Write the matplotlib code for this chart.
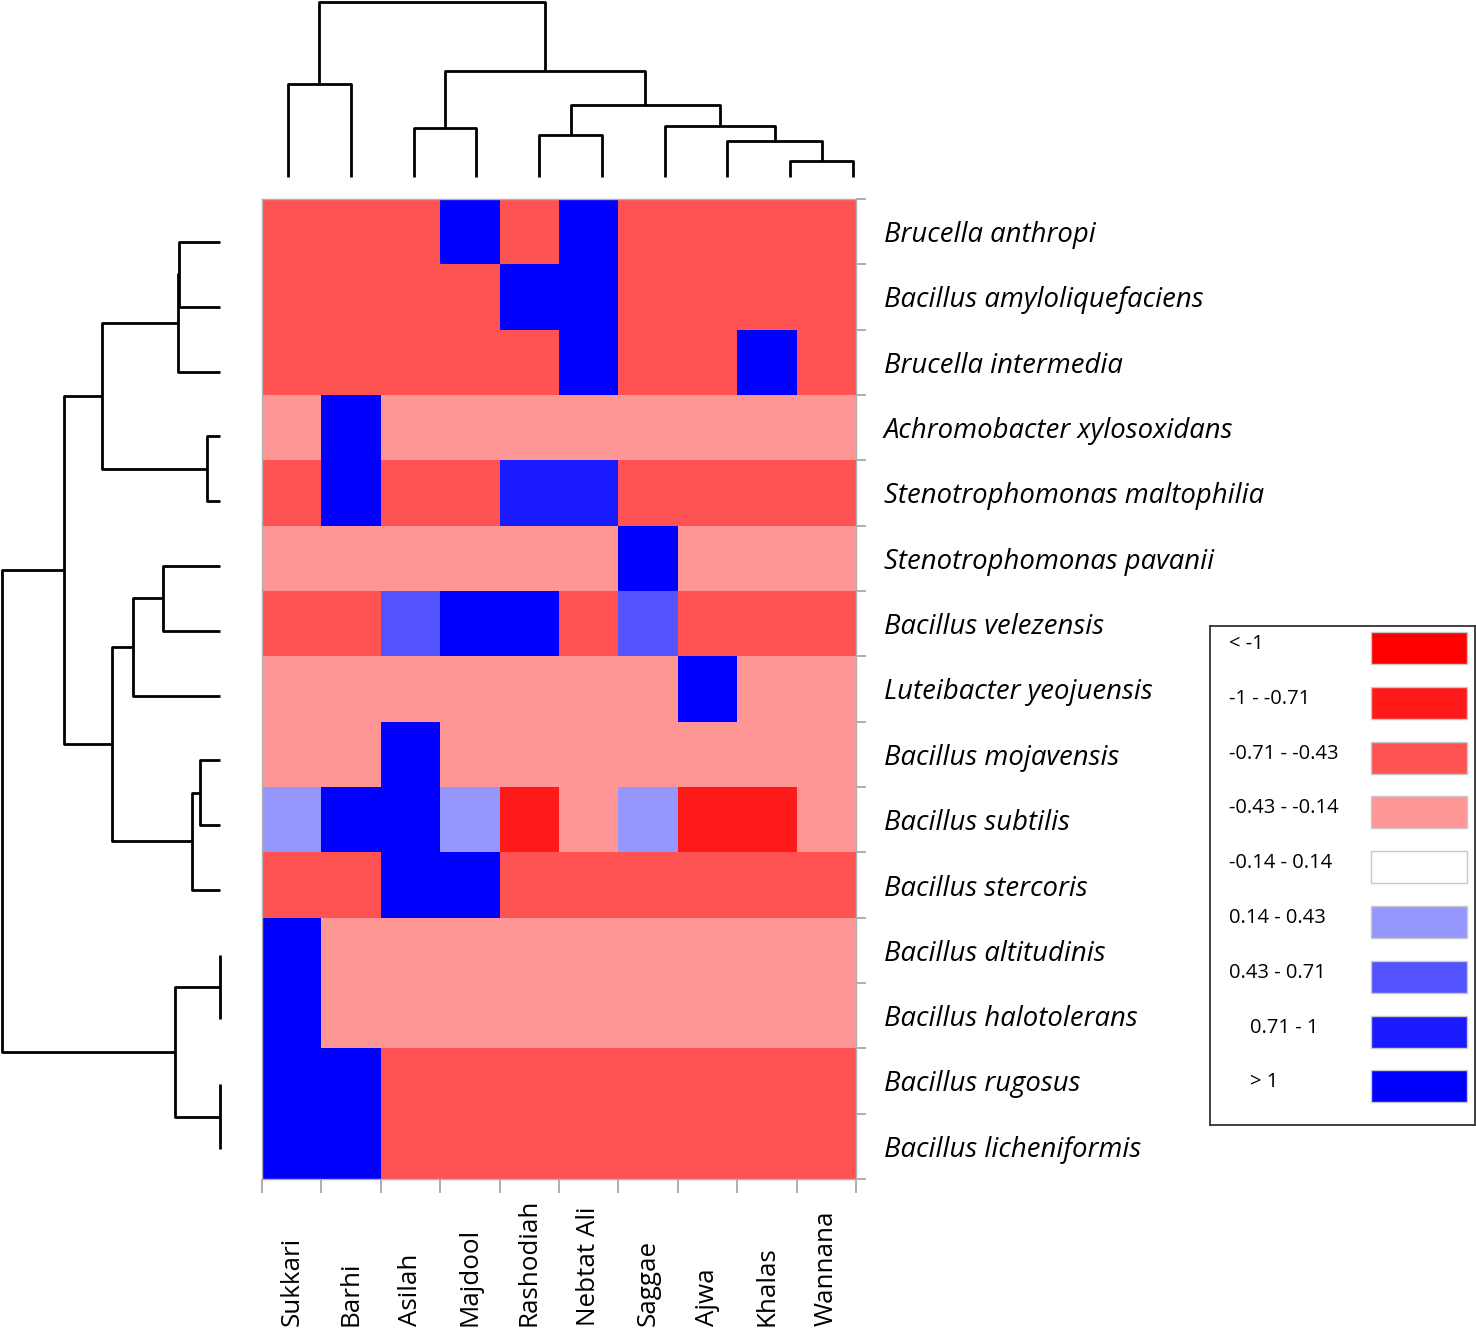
import numpy as np
import matplotlib.pyplot as plt
from matplotlib.colors import ListedColormap, BoundaryNorm
from matplotlib.patches import Rectangle
from matplotlib.transforms import blended_transform_factory

plt.rcParams['font.family'] = ['Open Sans', 'DejaVu Sans']

# data
cultivars = ['Sukkari', 'Barhi', 'Asilah', 'Majdool', 'Rashodiah',
             'Nebtat Ali', 'Saggae', 'Ajwa', 'Khalas', 'Wannana']
species = ['Brucella anthropi', 'Bacillus amyloliquefaciens', 'Brucella intermedia',
           'Achromobacter xylosoxidans', 'Stenotrophomonas maltophilia',
           'Stenotrophomonas pavanii', 'Bacillus velezensis', 'Luteibacter yeojuensis',
           'Bacillus mojavensis', 'Bacillus subtilis', 'Bacillus stercoris',
           'Bacillus altitudinis', 'Bacillus halotolerans', 'Bacillus rugosus',
           'Bacillus licheniformis']

bin_labels = ['< -1', '-1 - -0.71', '-0.71 - -0.43', '-0.43 - -0.14', '-0.14 - 0.14',
              '0.14 - 0.43', '0.43 - 0.71', '    0.71 - 1', '    > 1']
bin_colors = ['#ff0000', '#ff1a1a', '#ff5252', '#ff9696', '#ffffff',
              '#9696ff', '#5252ff', '#1a1aff', '#0000ff']

# bin index of each cell (0 = "< -1" ... 8 = "> 1")
bins = np.array([
    [2, 2, 2, 8, 2, 8, 2, 2, 2, 2],
    [2, 2, 2, 2, 8, 8, 2, 2, 2, 2],
    [2, 2, 2, 2, 2, 8, 2, 2, 8, 2],
    [3, 8, 3, 3, 3, 3, 3, 3, 3, 3],
    [2, 8, 2, 2, 7, 7, 2, 2, 2, 2],
    [3, 3, 3, 3, 3, 3, 8, 3, 3, 3],
    [2, 2, 6, 8, 8, 2, 6, 2, 2, 2],
    [3, 3, 3, 3, 3, 3, 3, 8, 3, 3],
    [3, 3, 8, 3, 3, 3, 3, 3, 3, 3],
    [5, 8, 8, 5, 1, 3, 5, 1, 1, 3],
    [2, 2, 8, 8, 2, 2, 2, 2, 2, 2],
    [8, 3, 3, 3, 3, 3, 3, 3, 3, 3],
    [8, 3, 3, 3, 3, 3, 3, 3, 3, 3],
    [8, 8, 2, 2, 2, 2, 2, 2, 2, 2],
    [8, 8, 2, 2, 2, 2, 2, 2, 2, 2],
])

# merges (child a, child b, height); ids >= n are earlier merges
col_merges = [(0, 1, 0.531), (2, 3, 0.28), (4, 5, 0.24), (8, 9, 0.091),
              (7, 13, 0.206), (6, 14, 0.291), (12, 15, 0.411), (11, 16, 0.606),
              (10, 17, 1.0)]
row_merges = [(0, 1, 0.19), (15, 2, 0.193), (3, 4, 0.06), (16, 17, 0.541),
              (5, 6, 0.261), (19, 7, 0.399), (8, 9, 0.092), (21, 10, 0.128),
              (20, 22, 0.495), (18, 23, 0.716), (11, 12, 0.0), (13, 14, 0.0),
              (25, 26, 0.206), (24, 27, 1.0)]

W, H = 1476, 1329
fig = plt.figure(figsize=(W / 100, H / 100), dpi=100)


def px_axes(l, t, r, b):
    return fig.add_axes([l / W, 1 - b / H, (r - l) / W, (b - t) / H])


def draw_dendro(ax, merges, n, side):
    pos = [float(i) for i in range(n)]
    hts = [0.0] * n
    for a, b, h in merges:
        p = [pos[a], pos[a], pos[b], pos[b]]
        q = [hts[a], h, h, hts[b]]
        if side == 'top':
            ax.plot(p, q, color='black', lw=2, clip_on=False, solid_capstyle='butt')
        else:
            ax.plot(q, p, color='black', lw=2, clip_on=False, solid_capstyle='butt')
        pos.append((pos[a] + pos[b]) / 2)
        hts.append(h)
    ax.axis('off')


# heatmap
ax = px_axes(262, 199, 856, 1179)
cmap = ListedColormap(bin_colors)
norm = BoundaryNorm(np.arange(-0.5, 9.5, 1), cmap.N)
ax.pcolormesh(np.arange(len(cultivars) + 1), np.arange(len(species) + 1), bins,
              cmap=cmap, norm=norm)
ax.set_xlim(0, len(cultivars))
ax.set_ylim(len(species), 0)
for s in ax.spines.values():
    s.set_color('#b0b0b0')
    s.set_linewidth(1)
ax.yaxis.tick_right()
ax.set_xticks(np.arange(len(cultivars) + 1))
ax.set_yticks(np.arange(len(species) + 1))
ax.set_xticklabels([])
ax.set_yticklabels([])
ax.set_yticks(np.arange(len(species)) + 0.5, minor=True)
ax.set_yticklabels(species, minor=True, fontstyle='italic', fontsize=19.8)
ax.tick_params(axis='y', which='major', length=7, color='#a0a0a0', width=1.2)
ax.tick_params(axis='x', which='major', length=10, color='#a0a0a0', width=1.2)
ax.tick_params(axis='y', which='minor', length=0, pad=20)
ax.tick_params(axis='x', which='minor', length=0)

tr = blended_transform_factory(ax.transData, fig.transFigure)
for i, name in enumerate(cultivars):
    ax.text(i + 0.5, 0.002, name, rotation=90, ha='center', va='bottom',
            fontsize=18.7, transform=tr)

# column dendrogram
axt = px_axes(256.6, 2, 884.4, 177)
draw_dendro(axt, col_merges, len(cultivars), 'top')
axt.set_xlim(-0.5, len(cultivars) - 0.5)
axt.set_ylim(0, 1)

# row dendrogram
axl = px_axes(2, 209.6, 220, 1181.4)
draw_dendro(axl, row_merges, len(species), 'left')
axl.set_xlim(1, 0)
axl.set_ylim(len(species) - 0.5, -0.5)

# legend
axg = px_axes(1210, 626, 1475, 1125)
axg.set_xlim(1210, 1475)
axg.set_ylim(1125, 626)
axg.set_xticks([])
axg.set_yticks([])
for s in axg.spines.values():
    s.set_color('#333333')
    s.set_linewidth(1.3)
for i, (lab, col) in enumerate(zip(bin_labels, bin_colors)):
    yc = 648 + i * 54.8
    axg.add_patch(Rectangle((1371, yc - 16), 96, 32, facecolor=col,
                            edgecolor='#c8c8c8', lw=1))
    axg.text(1229, yc - 4, lab, ha='left', va='center', fontsize=14.5)

fig.savefig('out.png', dpi=100)
